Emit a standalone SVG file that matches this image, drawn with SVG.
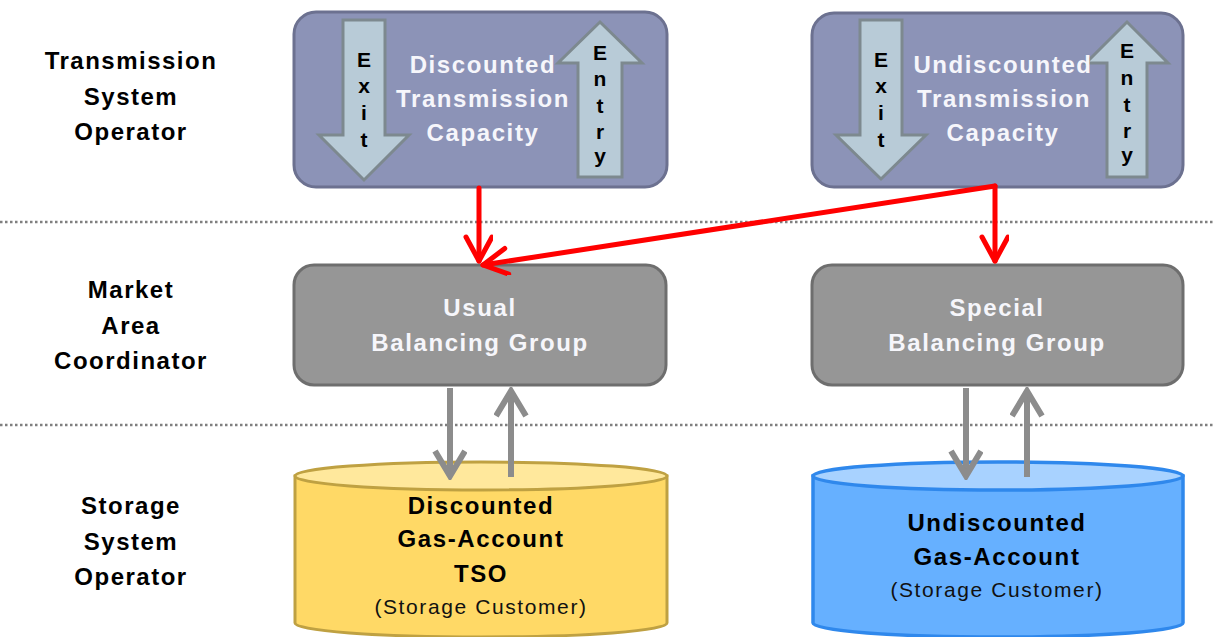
<svg xmlns="http://www.w3.org/2000/svg" width="1215" height="637" viewBox="0 0 1215 637">
<defs>
<style>
.lbl{font-family:"Liberation Sans",Arial,sans-serif;font-weight:bold;font-size:24px;letter-spacing:1.5px;fill:#000;text-anchor:middle}
.wt{font-family:"Liberation Sans",Arial,sans-serif;font-weight:bold;font-size:24px;letter-spacing:1.6px;fill:#F6F6FB;text-anchor:middle}
.bt{font-family:"Liberation Sans",Arial,sans-serif;font-weight:bold;font-size:24px;letter-spacing:1.6px;fill:#000;text-anchor:middle}
.st{font-family:"Liberation Sans",Arial,sans-serif;font-size:21px;letter-spacing:1.6px;fill:#111;text-anchor:middle}
.let{font-family:"Liberation Sans",Arial,sans-serif;font-weight:bold;font-size:21px;fill:#000;text-anchor:middle}
.tsoBox{fill:#8C93B7;stroke:#6C7190;stroke-width:3}
.macBox{fill:#969696;stroke:#6E6E6E;stroke-width:3}
.blk{fill:#B8CBD7;stroke:#7D898F;stroke-width:3;stroke-linejoin:miter}
.red{stroke:#FF0000;stroke-width:5;fill:none;stroke-linecap:round}
.gry{stroke:#8C8C8C;stroke-width:6;fill:none}
.dot{stroke:#7F7F7F;stroke-width:2.5;stroke-dasharray:2.5 2.5}
</style>
<marker id="rh" markerUnits="userSpaceOnUse" markerWidth="32" markerHeight="32" refX="27" refY="14" orient="auto">
<path d="M3,1 L27,14 L3,27" fill="none" stroke="#FF0000" stroke-width="5" stroke-linecap="round" stroke-linejoin="round"/>
</marker>
<marker id="gh" markerUnits="userSpaceOnUse" markerWidth="34" markerHeight="40" refX="30" refY="17" orient="auto">
<path d="M5,2 L30,17 L5,32" fill="none" stroke="#8C8C8C" stroke-width="6" stroke-linejoin="miter"/>
</marker>
</defs>
<rect width="1215" height="637" fill="#FFFFFF"/>

<g id="row-labels">
<text class="lbl" x="131" y="69">Transmission</text>
<text class="lbl" x="131" y="105">System</text>
<text class="lbl" x="131" y="140">Operator</text>
<text class="lbl" x="131" y="298">Market</text>
<text class="lbl" x="131" y="334">Area</text>
<text class="lbl" x="131" y="369">Coordinator</text>
<text class="lbl" x="131" y="514">Storage</text>
<text class="lbl" x="131" y="550">System</text>
<text class="lbl" x="131" y="585">Operator</text>
</g>

<g id="separators">
<line class="dot" x1="0" y1="222" x2="1215" y2="222"/>
<line class="dot" x1="0" y1="425" x2="1215" y2="425"/>
</g>

<g id="discounted-capacity">
<rect class="tsoBox" x="294" y="12" width="373" height="175" rx="22"/>
<polygon class="blk" points="343,20 385,20 385,135 409,135 364,180 319,135 343,135"/>
<polygon class="blk" points="578,177 622,177 622,63 642,63 600,22 558,63 578,63"/>
<text class="let" x="364" y="67">E</text>
<text class="let" x="364" y="93">x</text>
<text class="let" x="364" y="120">i</text>
<text class="let" x="364" y="147">t</text>
<text class="let" x="600" y="60">E</text>
<text class="let" x="600" y="86">n</text>
<text class="let" x="600" y="113">t</text>
<text class="let" x="600" y="139">r</text>
<text class="let" x="600" y="163">y</text>
<text class="wt" x="483" y="73">Discounted</text>
<text class="wt" x="483" y="107">Transmission</text>
<text class="wt" x="483" y="141">Capacity</text>
</g>

<g id="undiscounted-capacity">
<rect class="tsoBox" x="812" y="13" width="371" height="174" rx="22"/>
<polygon class="blk" points="860,20 902,20 902,135 926,135 881,179 836,135 860,135"/>
<polygon class="blk" points="1107,177 1147,177 1147,63 1168,63 1127,22 1086,63 1107,63"/>
<text class="let" x="881" y="67">E</text>
<text class="let" x="881" y="93">x</text>
<text class="let" x="881" y="120">i</text>
<text class="let" x="881" y="147">t</text>
<text class="let" x="1127" y="58">E</text>
<text class="let" x="1127" y="85">n</text>
<text class="let" x="1127" y="112">t</text>
<text class="let" x="1127" y="138">r</text>
<text class="let" x="1127" y="162">y</text>
<text class="wt" x="1003" y="73">Undiscounted</text>
<text class="wt" x="1004" y="107">Transmission</text>
<text class="wt" x="1003" y="141">Capacity</text>
</g>

<g id="usual-balancing-group">
<rect class="macBox" x="294" y="265" width="372" height="120" rx="20"/>
<text class="wt" x="480" y="316">Usual</text>
<text class="wt" x="480" y="351">Balancing Group</text>
</g>

<g id="special-balancing-group">
<rect class="macBox" x="812" y="265" width="371" height="120" rx="20"/>
<text class="wt" x="997" y="316">Special</text>
<text class="wt" x="997" y="351">Balancing Group</text>
</g>

<g id="discounted-gas-account">
<path d="M295,476 L295,623 A186,14 0 0 0 667,623 L667,476 Z" fill="#FFD966" stroke="#BFA142" stroke-width="3"/>
<ellipse cx="481" cy="476" rx="186" ry="14" fill="#FFE89C" stroke="#BFA142" stroke-width="3"/>
<text class="bt" x="481" y="514">Discounted</text>
<text class="bt" x="481" y="547">Gas-Account</text>
<text class="bt" x="481" y="582">TSO</text>
<text class="st" x="481" y="614">(Storage Customer)</text>
</g>

<g id="undiscounted-gas-account">
<path d="M813,476 L813,623 A185,14 0 0 0 1183,623 L1183,476 Z" fill="#66B0FF" stroke="#2F88EC" stroke-width="3.5"/>
<ellipse cx="998" cy="476" rx="185" ry="14" fill="#A8D2FF" stroke="#2F88EC" stroke-width="3.5"/>
<text class="bt" x="997" y="531">Undiscounted</text>
<text class="bt" x="997" y="565">Gas-Account</text>
<text class="st" x="997" y="597">(Storage Customer)</text>
</g>

<g id="connectors">
<line class="red" x1="479" y1="188" x2="479" y2="261" marker-end="url(#rh)"/>
<line class="red" x1="995" y1="186" x2="483" y2="265" marker-end="url(#rh)"/>
<line class="red" x1="995" y1="186" x2="995" y2="261" marker-end="url(#rh)"/>
<line class="gry" x1="450" y1="388" x2="450" y2="476" marker-end="url(#gh)"/>
<line class="gry" x1="511" y1="477" x2="511" y2="391" marker-end="url(#gh)"/>
<line class="gry" x1="966" y1="388" x2="966" y2="476" marker-end="url(#gh)"/>
<line class="gry" x1="1027" y1="477" x2="1027" y2="391" marker-end="url(#gh)"/>
</g>
</svg>
